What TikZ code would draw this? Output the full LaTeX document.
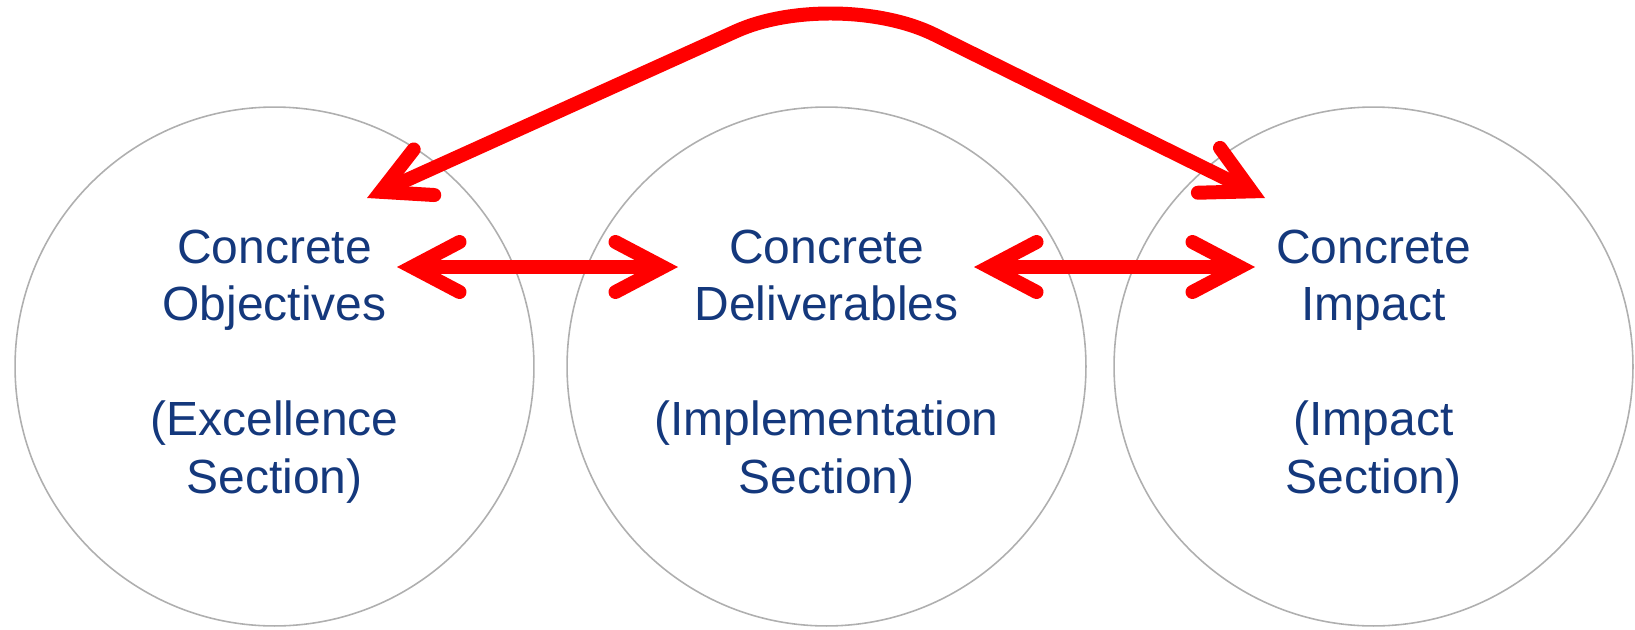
\documentclass[tikz,border=0pt]{standalone}
\usepackage{fontspec}
\setmainfont{Liberation Sans}
\usetikzlibrary{arrows.meta}
\definecolor{txtblue}{RGB}{20,56,124}
\definecolor{ringgray}{RGB}{175,175,175}

\begin{document}
\begin{tikzpicture}[x=0.02cm,y=-0.02cm,
    >={Straight Barb[length=0.95cm,width=1cm,line cap=round,line join=miter]},
    ring/.style={circle,draw=ringgray,line width=0.9pt,minimum size=10.38cm,inner sep=0pt,
      text=txtblue,align=center,font=\fontsize{27.3}{32.7}\selectfont},
    link/.style={<->,red,line width=0.28cm}]
  \useasboundingbox (0,0) rectangle (1635,629);
  \node[ring] (obj) at (274.5,366.5) {Concrete\\Objectives\\[1.15cm](Excellence\\Section)};
  \node[ring] (deliv) at (826.5,366.5) {Concrete\\Deliverables\\[1.15cm](Implementation\\Section)};
  \node[ring] (imp) at (1373.5,366.5) {Concrete\\Impact\\[1.15cm](Impact\\Section)};
  % arrow ends
  \coordinate (objR) at (397,267);
  \coordinate (delivL) at (678,267);
  \coordinate (delivR) at (974,267);
  \coordinate (impL) at (1255,267);
  \coordinate (objT) at (367,198);
  \coordinate (impT) at (1265,198);
  \coordinate (peak) at (836,-14);
  \draw[link] (objR) -- (delivL);
  \draw[link] (delivR) -- (impL);
  \draw[link,rounded corners=2.2cm] (objT) -- (peak) -- (impT);
\end{tikzpicture}
\end{document}
